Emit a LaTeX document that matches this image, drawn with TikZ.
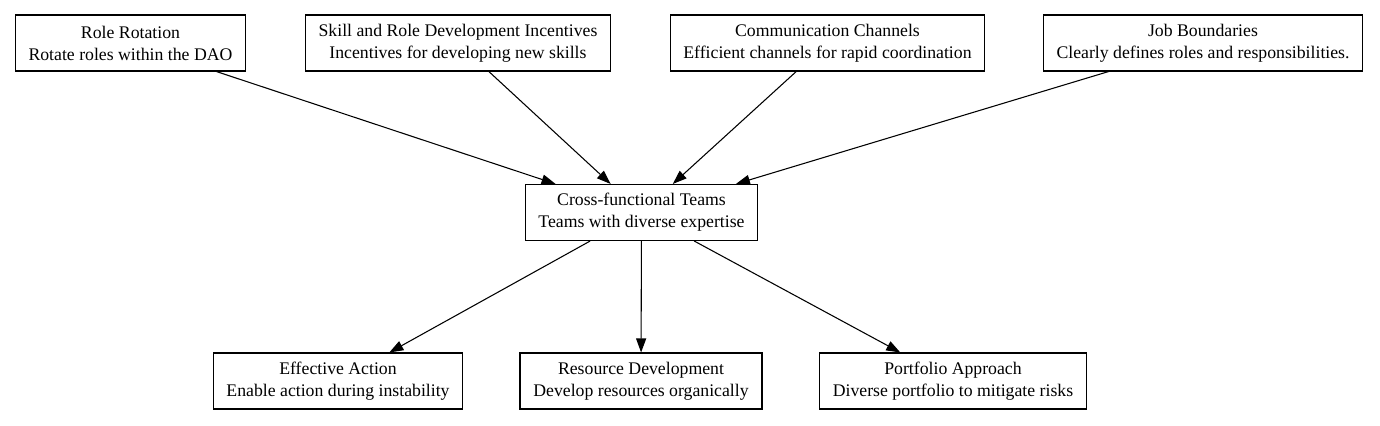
\documentclass[tikz,border=0pt]{standalone}
\usepackage{fontspec}
\setmainfont{Liberation Serif}
\usetikzlibrary{arrows.meta}
\begin{document}
\begin{tikzpicture}[x=0.75pt,y=-0.75pt,
    box/.style={draw, line width=0.8pt, align=center,
        font=\fontsize{13.3}{16.5}\selectfont,
        inner xsep=10pt, minimum height=42pt},
    edge/.style={-{Triangle[length=10.5pt,width=7.5pt]}, line width=0.8pt}]
    \useasboundingbox (0,0) rectangle (1380,425);
    % top row
    \node[box] (rotation) at (130.5,43) {Role Rotation\\Rotate roles within the DAO};
    \node[box] (incentives) at (458,43) {Skill and Role Development Incentives\\Incentives for developing new skills};
    \node[box] (channels) at (827.5,43) {Communication Channels\\Efficient channels for rapid coordination};
    \node[box] (boundaries) at (1203,43) {Job Boundaries\\Clearly defines roles and responsibilities.};
    % middle
    \node[box] (teams) at (641.5,212.5) {Cross-functional Teams\\Teams with diverse expertise};
    % bottom row
    \node[box] (action) at (338,381) {Effective Action\\Enable action during instability};
    \node[box] (resources) at (641,381) {Resource Development\\Develop resources organically};
    \node[box] (portfolio) at (953,381) {Portfolio Approach\\Diverse portfolio to mitigate risks};
    \draw[edge] (rotation) -- (teams);
    \draw[edge] (incentives) -- (teams);
    \draw[edge] (channels) -- (teams);
    \draw[edge] (boundaries) -- (teams);
    \draw[edge] (teams) -- (action);
    \draw[edge] (teams) -- (resources);
    \draw[edge] (teams) -- (portfolio);
\end{tikzpicture}
\end{document}
